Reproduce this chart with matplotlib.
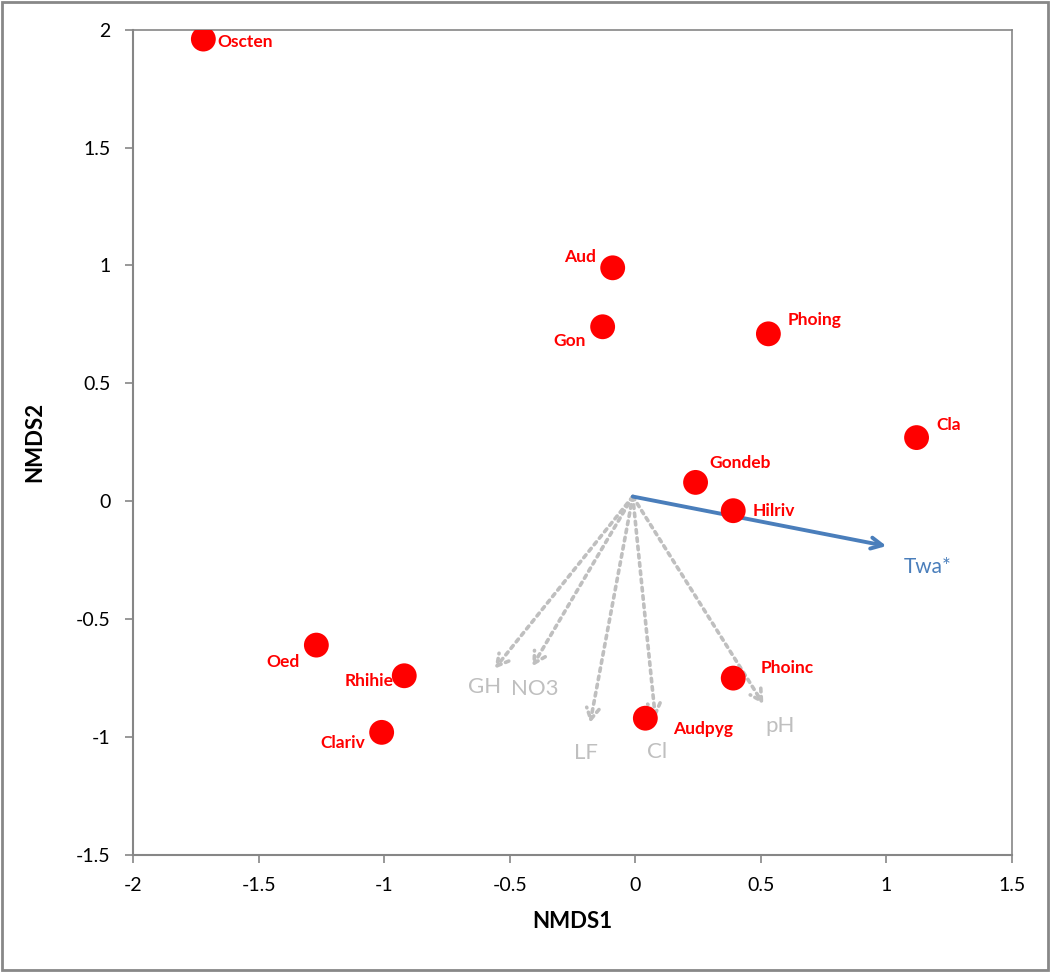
import matplotlib.pyplot as plt
from matplotlib.patches import Rectangle

# ── Data ──────────────────────────────────────────────────────────────────────
species = ["Oscten", "Aud", "Gon", "Phoing", "Cla", "Gondeb", "Hilriv",
           "Oed", "Rhihie", "Clariv", "Phoinc", "Audpyg"]
nmds1 = [-1.72, -0.09, -0.13, 0.53, 1.12, 0.24, 0.39,
         -1.27, -0.92, -1.01, 0.39, 0.04]
nmds2 = [1.96, 0.99, 0.74, 0.71, 0.27, 0.08, -0.04,
         -0.61, -0.74, -0.98, -0.75, -0.92]

env_names = ["GH", "NO3", "LF", "Cl", "pH"]
env_x = [-0.56, -0.41, -0.18, 0.08, 0.51]
env_y = [-0.71, -0.70, -0.94, -0.92, -0.86]

sig_name = "Twa*"
sig_x, sig_y = 1.0, -0.19
origin = (-0.01, 0.02)

# label placement (offset in points, alignment)
LABEL_POS = {
    "Oscten": ((10, -2), "left"),
    "Aud":    ((-12, 8), "right"),
    "Gon":    ((-12, -10), "right"),
    "Phoing": ((14, 10), "left"),
    "Cla":    ((14, 9), "left"),
    "Gondeb": ((10, 14), "left"),
    "Hilriv": ((14, 0), "left"),
    "Oed":    ((-12, -12), "right"),
    "Rhihie": ((-8, -4), "right"),
    "Clariv": ((-12, -8), "right"),
    "Phoinc": ((20, 7), "left"),
    "Audpyg": ((20, -8), "left"),
}
ENV_LABEL_OFF = {
    "GH": (-7, -13), "NO3": (2, -16), "LF": (-3, -22),
    "Cl": (1, -24), "pH": (12, -16),
}

RED = "#FF0000"
GREY = "#BFBFBF"
BLUE = "#4A7EBB"

plt.rcParams['font.family'] = ['Lato', 'DejaVu Sans']

fig = plt.figure(figsize=(10.5, 9.72), dpi=100)
ax = fig.add_axes([0.1267, 0.1204, 0.8371, 0.8491])

# environmental vectors (non-significant, dotted grey)
for name, ex, ey in zip(env_names, env_x, env_y):
    ax.annotate("", xy=(ex, ey), xytext=origin,
                arrowprops=dict(arrowstyle="->,head_length=0.8,head_width=0.45",
                                color=GREY, lw=2.6, linestyle=(0, (1, 1.3)),
                                shrinkA=0, shrinkB=0))
    dx, dy = ENV_LABEL_OFF[name]
    ax.annotate(name, xy=(ex, ey), xytext=(dx, dy), textcoords="offset points",
                ha="center", va="center", color=GREY, fontsize=16)

# significant vector
ax.annotate("", xy=(sig_x, sig_y), xytext=origin,
            arrowprops=dict(arrowstyle="->,head_length=0.8,head_width=0.4",
                            color=BLUE, lw=2.8, shrinkA=0, shrinkB=0))
ax.annotate(sig_name, xy=(sig_x, sig_y), xytext=(30, -15),
            textcoords="offset points", ha="center", va="center",
            color=BLUE, fontsize=15)

# species points
ax.scatter(nmds1, nmds2, s=320, color=RED, zorder=3, edgecolors="none")
for name, x, y in zip(species, nmds1, nmds2):
    off, ha = LABEL_POS[name]
    ax.annotate(name, xy=(x, y), xytext=off, textcoords="offset points",
                ha=ha, va="center", color=RED, fontsize=12.5, fontweight="bold",
                zorder=4)

ax.set_xlim(-2, 1.5)
ax.set_ylim(-1.5, 2)
ax.set_xticks([-2, -1.5, -1, -0.5, 0, 0.5, 1, 1.5])
ax.set_yticks([-1.5, -1, -0.5, 0, 0.5, 1, 1.5, 2])
ax.set_xticklabels(["-2", "-1.5", "-1", "-0.5", "0", "0.5", "1", "1.5"])
ax.set_yticklabels(["-1.5", "-1", "-0.5", "0", "0.5", "1", "1.5", "2"])
ax.tick_params(labelsize=14, length=6, width=1.2, color="#868686",
               direction="out", pad=10)
for side in ["top", "right"]:
    ax.spines[side].set_color("#868686")
    ax.spines[side].set_linewidth(1.2)
for side in ["left", "bottom"]:
    ax.spines[side].set_color("#868686")
    ax.spines[side].set_linewidth(1.5)

ax.set_xlabel("NMDS1", fontsize=16, fontweight="bold", labelpad=12)
ax.set_ylabel("NMDS2", fontsize=16, fontweight="bold", labelpad=22)

# outer chart border
fig.patches.append(Rectangle((0.002, 0.002), 0.996, 0.996, transform=fig.transFigure,
                             fill=False, edgecolor="#888888", lw=2))

fig.savefig("out.png", dpi=100)
